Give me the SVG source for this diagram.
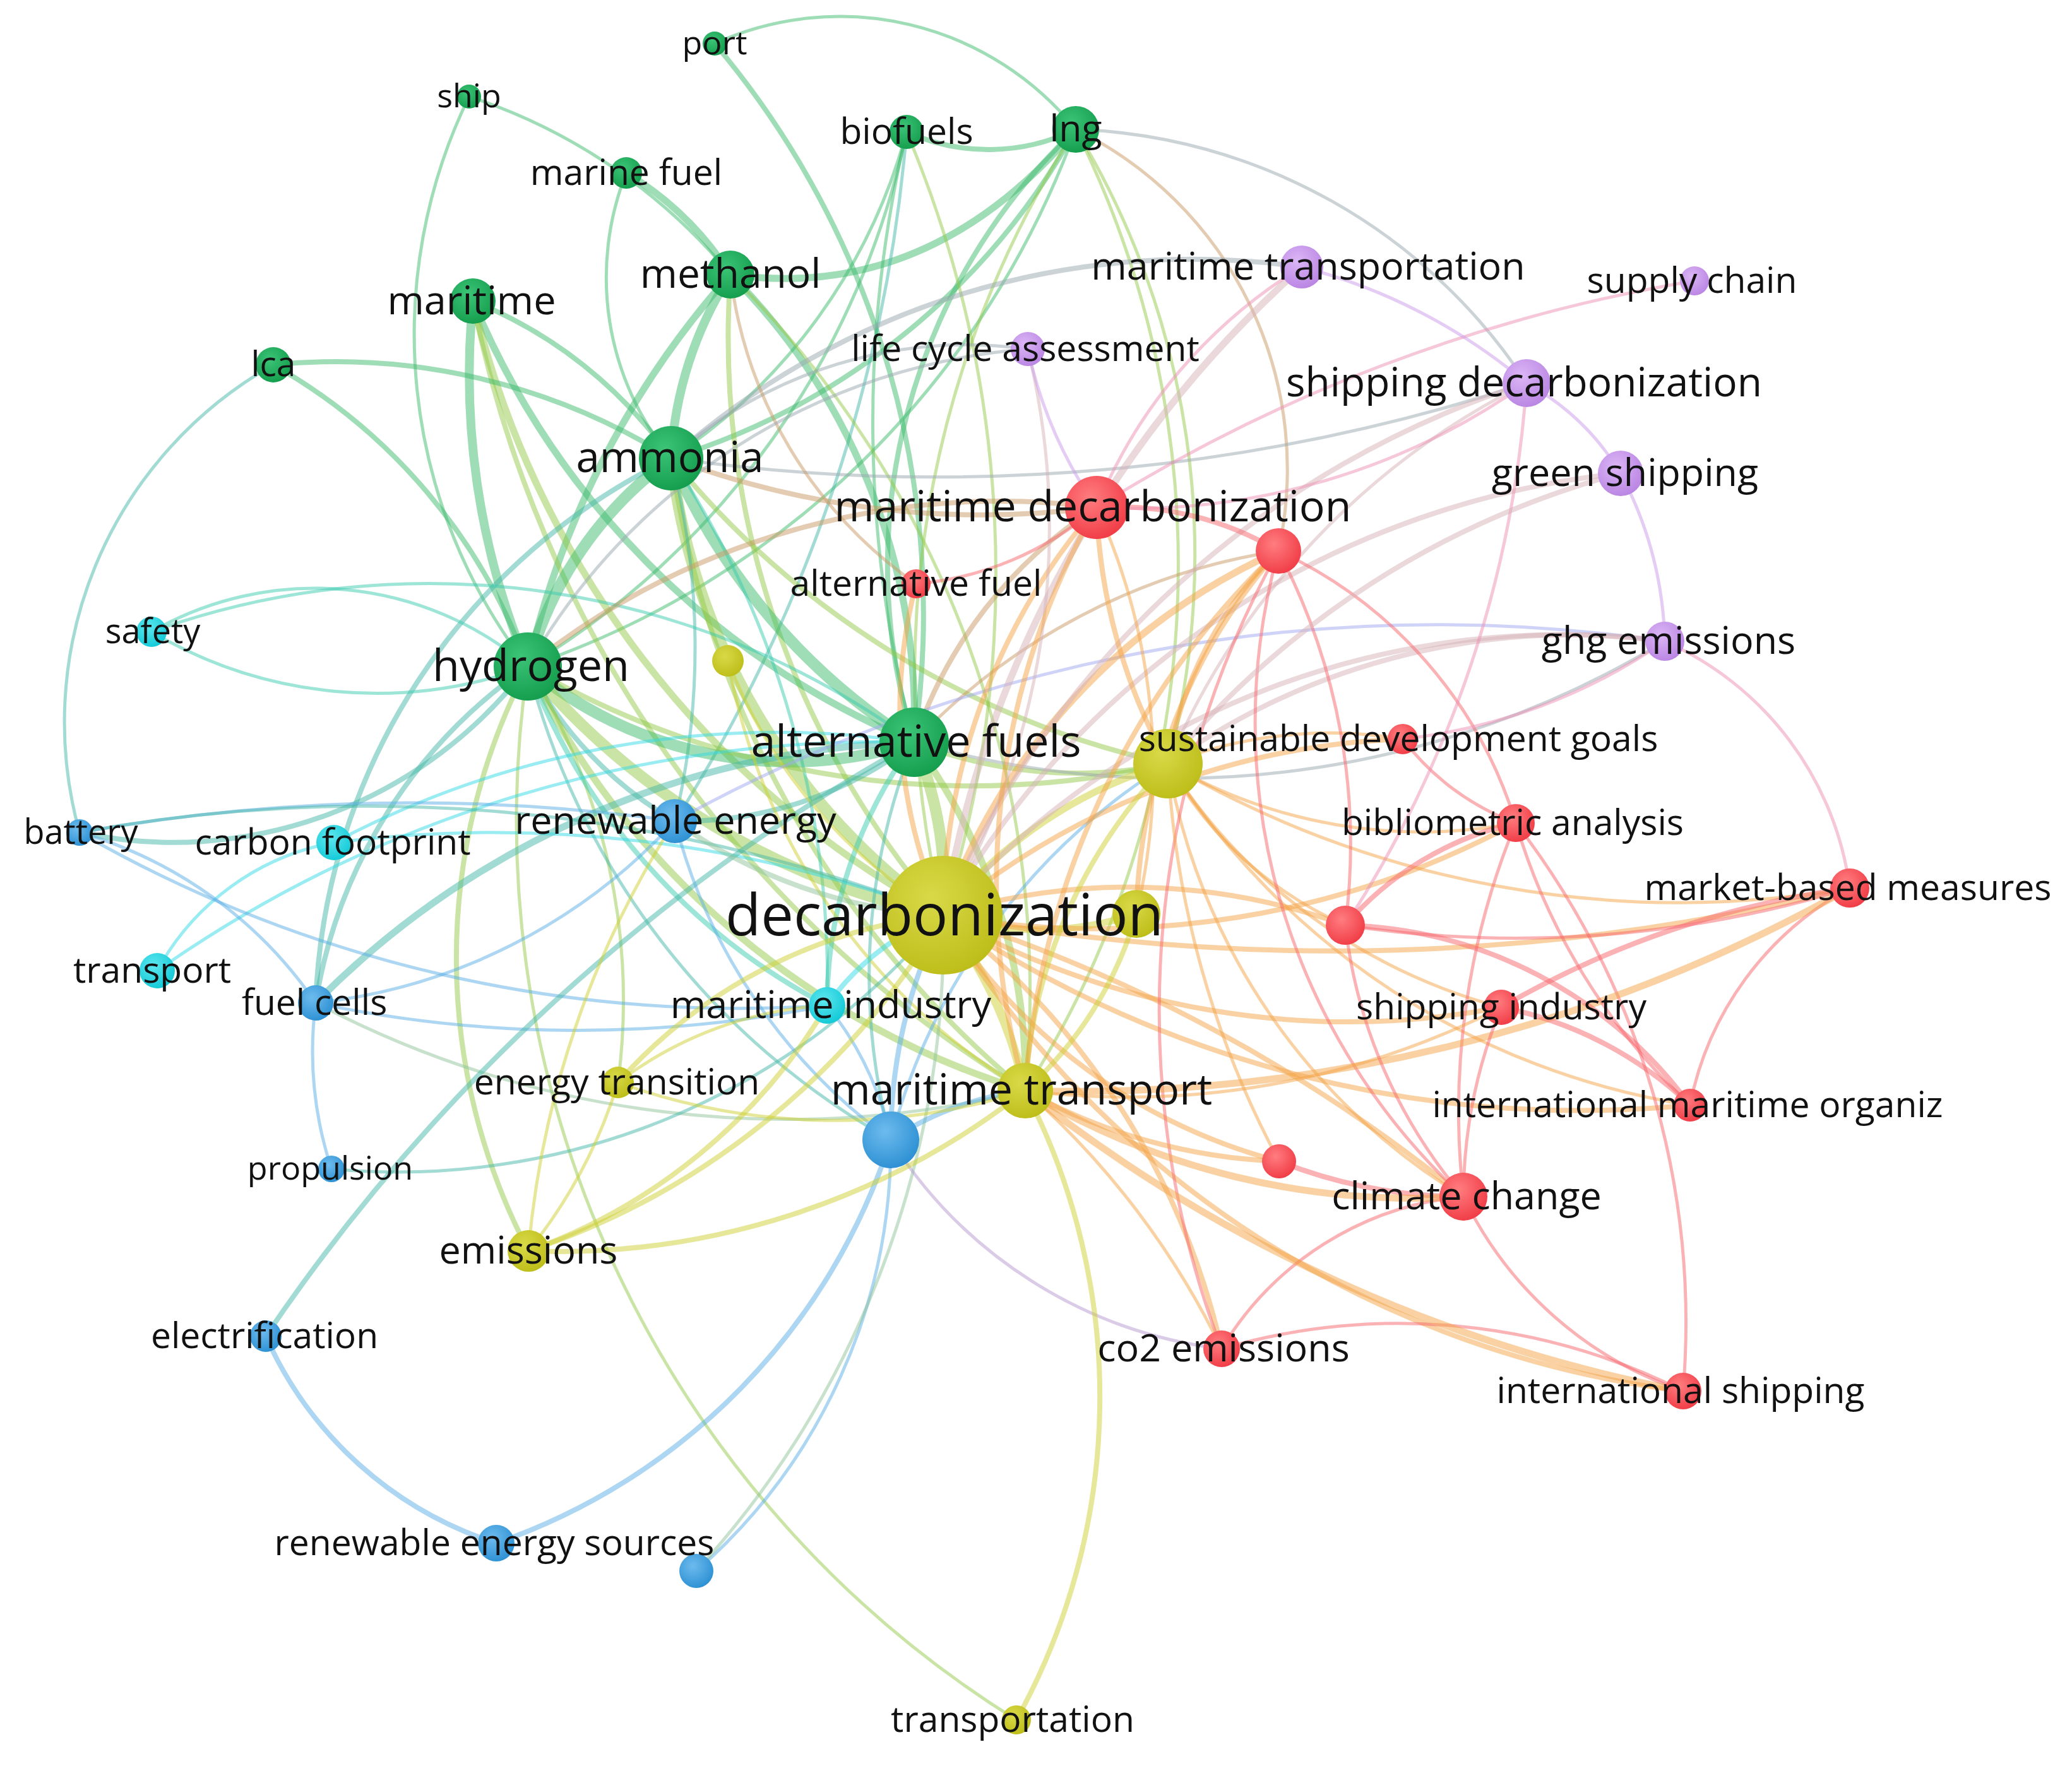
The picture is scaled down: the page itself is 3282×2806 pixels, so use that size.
<svg xmlns="http://www.w3.org/2000/svg" width="3282" height="2806" viewBox="0 0 3282 2806">
<style>
.e{fill:none;stroke-linecap:round;stroke-opacity:.5}
.g{stroke:#3dbb6e}.y{stroke:#cdd032}.r{stroke:#f7666b}.p{stroke:#c99ae9}.b{stroke:#5aaee6}.c{stroke:#33d9e4}
.gy{stroke:#93c94a}.ry{stroke:#f3a445}.gb{stroke:#45b8a8}.gc{stroke:#3ccbb0}.gp{stroke:#9aa8b0}.rp{stroke:#eb8fb4}
.py{stroke:#d6b2b8}.pb{stroke:#a0a8f0}.gr{stroke:#c99a66}.by{stroke:#90c49a}.rb{stroke:#b59ad0}
.w1{stroke-width:5}.w2{stroke-width:8}.w3{stroke-width:11}.w4{stroke-width:14}.w5{stroke-width:18}
text{font-family:"Open Sans","Liberation Sans",sans-serif;fill:#111;text-anchor:middle}
.f92{font-size:92px}.f70{font-size:70px}.f68{font-size:68px}.f67{font-size:67px}.f64{font-size:64px}.f63{font-size:63px}.f61{font-size:61px}.f59{font-size:59px}.f57{font-size:57px}.f55{font-size:55px}.f54{font-size:54px}.f52{font-size:52px}
.ng{fill:url(#gG)}.nr{fill:url(#gR)}.np{fill:url(#gP)}.ny{fill:url(#gY)}.nb{fill:url(#gB)}.nc{fill:url(#gC)}
</style>
<defs>
<radialGradient id="gG" cx="40%" cy="35%" r="70%"><stop offset="0" stop-color="#3cc477"/><stop offset="1" stop-color="#129c4b"/></radialGradient>
<radialGradient id="gR" cx="40%" cy="35%" r="70%"><stop offset="0" stop-color="#ff7d80"/><stop offset="1" stop-color="#f03a44"/></radialGradient>
<radialGradient id="gP" cx="40%" cy="35%" r="70%"><stop offset="0" stop-color="#dcb6f6"/><stop offset="1" stop-color="#b883e2"/></radialGradient>
<radialGradient id="gY" cx="40%" cy="35%" r="70%"><stop offset="0" stop-color="#d9d948"/><stop offset="1" stop-color="#bcbc18"/></radialGradient>
<radialGradient id="gB" cx="40%" cy="35%" r="70%"><stop offset="0" stop-color="#6dbbee"/><stop offset="1" stop-color="#2b8fd2"/></radialGradient>
<radialGradient id="gC" cx="40%" cy="35%" r="70%"><stop offset="0" stop-color="#5de7ef"/><stop offset="1" stop-color="#10c8d6"/></radialGradient>
</defs>
<rect width="3282" height="2806" fill="#fff"/>
<g id="edges">
<path class="e g w1" d="M1132,69 A480,480 0 0 1 1704,205"/>
<path class="e g w2" d="M1132,69 A1400,1400 0 0 1 1448,1176"/>
<path class="e g w1" d="M743,153 A900,900 0 0 1 1157,435"/>
<path class="e g w1" d="M743,153 A860,860 0 0 0 836,1056"/>
<path class="e g w3" d="M992,274 A500,500 0 0 1 1157,435"/>
<path class="e g w1" d="M992,274 A450,450 0 0 0 1063,726"/>
<path class="e g w3" d="M1704,205 Q1470,480 1157,435"/>
<path class="e g w2" d="M1704,205 A950,950 0 0 0 1448,1176"/>
<path class="e g w2" d="M1704,205 A1100,1100 0 0 1 1063,726"/>
<path class="e g w1" d="M1704,205 A1400,1400 0 0 1 836,1056"/>
<path class="e gy w1" d="M1704,205 A1600,1600 0 0 0 1494,1450"/>
<path class="e gp w1" d="M1704,205 A890,890 0 0 1 2418,607"/>
<path class="e gy w1" d="M1704,205 A1550,1550 0 0 1 1624,1728"/>
<path class="e gy w1" d="M1704,205 A1300,1300 0 0 1 1850,1210"/>
<path class="e gr w1" d="M1704,205 A600,600 0 0 1 2025,873"/>
<path class="e g w2" d="M1436,209 A315,315 0 0 0 1704,205"/>
<path class="e gy w1" d="M1436,209 A1800,1800 0 0 1 1494,1450"/>
<path class="e gb w1" d="M1436,209 A2400,2400 0 0 1 1069,1301"/>
<path class="e g w1" d="M1436,209 A2000,2000 0 0 0 1448,1176"/>
<path class="e g w1" d="M1436,209 A900,900 0 0 1 1063,726"/>
<path class="e g w1" d="M1436,209 A1300,1300 0 0 1 836,1056"/>
<path class="e g w4" d="M1157,435 A600,600 0 0 0 1063,726"/>
<path class="e g w3" d="M1157,435 A1400,1400 0 0 0 836,1056"/>
<path class="e g w3" d="M1157,435 A1000,1000 0 0 1 1448,1176"/>
<path class="e gy w2" d="M1157,435 A1400,1400 0 0 0 1494,1450"/>
<path class="e gy w1" d="M1157,435 A1600,1600 0 0 1 1624,1728"/>
<path class="e gp w2" d="M1063,726 A1240,1240 0 0 1 2062,423"/>
<path class="e gp w1" d="M1063,726 A700,700 0 0 1 1628,553"/>
<path class="e gp w1" d="M1063,726 A3000,3000 0 0 0 2418,607"/>
<path class="e g w4" d="M749,477 A1200,1200 0 0 0 836,1056"/>
<path class="e g w2" d="M749,477 A700,700 0 0 1 1063,726"/>
<path class="e g w3" d="M749,477 A1300,1300 0 0 0 1448,1176"/>
<path class="e gy w3" d="M749,477 A1500,1500 0 0 0 1494,1450"/>
<path class="e gy w2" d="M749,477 A1900,1900 0 0 0 1624,1728"/>
<path class="e g w2" d="M433,578 A900,900 0 0 1 836,1056"/>
<path class="e gb w1" d="M433,578 A650,650 0 0 0 126,1319"/>
<path class="e g w2" d="M433,578 A1000,1000 0 0 1 1063,726"/>
<path class="e g w5" d="M1063,726 A600,600 0 0 0 836,1056"/>
<path class="e g w5" d="M1063,726 A1000,1000 0 0 0 1448,1176"/>
<path class="e gy w5" d="M1063,726 A1030,1030 0 0 0 1494,1450"/>
<path class="e gr w2" d="M1063,726 A1400,1400 0 0 0 1737,804"/>
<path class="e gy w2" d="M1063,726 A1600,1600 0 0 0 1624,1728"/>
<path class="e gy w2" d="M1063,726 A1400,1400 0 0 0 1850,1210"/>
<path class="e gb w1" d="M1063,726 A1200,1200 0 0 1 1069,1301"/>
<path class="e gb w2" d="M1063,726 A1000,1000 0 0 0 500,1589"/>
<path class="e gc w1" d="M1063,726 A1500,1500 0 0 1 1310,1593"/>
<path class="e gr w1" d="M1451,925 A700,700 0 0 1 1157,435"/>
<path class="e g w5" d="M836,1056 A644,644 0 0 0 1448,1176"/>
<path class="e gy w5" d="M836,1056 A1160,1160 0 0 0 1494,1450"/>
<path class="e gb w2" d="M836,1056 A800,800 0 0 0 500,1589"/>
<path class="e gc w1" d="M240,1001 A700,700 0 0 0 836,1056"/>
<path class="e gc w1" d="M240,1001 A1300,1300 0 0 1 1448,1176"/>
<path class="e gc w1" d="M240,1001 A520,520 0 0 1 836,1056"/>
<path class="e gb w2" d="M126,1319 A706,706 0 0 0 836,1056"/>
<path class="e gb w2" d="M836,1056 A600,600 0 0 0 1069,1301"/>
<path class="e gy w3" d="M836,1056 A1300,1300 0 0 0 1624,1728"/>
<path class="e gy w2" d="M836,1056 A1000,1000 0 0 0 837,1982"/>
<path class="e gy w1" d="M836,1056 A1000,1000 0 0 1 979,1715"/>
<path class="e gc w2" d="M836,1056 A1000,1000 0 0 0 1310,1593"/>
<path class="e gr w2" d="M836,1056 A1200,1200 0 0 1 1737,804"/>
<path class="e gy w2" d="M836,1056 A1400,1400 0 0 0 1850,1210"/>
<path class="e gy w1" d="M836,1056 A1677,1677 0 0 0 1610,2725"/>
<path class="e gb w1" d="M836,1056 A1200,1200 0 0 0 1411,1806"/>
<path class="e gy w5" d="M1448,1176 A600,600 0 0 1 1494,1450"/>
<path class="e gy w3" d="M1448,1176 A900,900 0 0 1 1624,1728"/>
<path class="e gy w2" d="M1448,1176 A700,700 0 0 0 1850,1210"/>
<path class="e gr w2" d="M1448,1176 A700,700 0 0 1 1737,804"/>
<path class="e gc w2" d="M1448,1176 A700,700 0 0 0 1310,1593"/>
<path class="e gb w2" d="M1448,1176 A600,600 0 0 1 1069,1301"/>
<path class="e gb w1" d="M1448,1176 A1000,1000 0 0 0 1411,1806"/>
<path class="e gr w1" d="M1448,1176 A1000,1000 0 0 1 2025,873"/>
<path class="e gp w1" d="M1448,1176 A1500,1500 0 0 0 2637,1016"/>
<path class="e gb w3" d="M1448,1176 A1390,1390 0 0 0 500,1589"/>
<path class="e y w1" d="M1153,1047 A800,800 0 0 0 1494,1450"/>
<path class="e y w1" d="M1153,1047 A1000,1000 0 0 0 1624,1728"/>
<path class="e c w2" d="M1310,1593 A400,400 0 0 1 1494,1450"/>
<path class="e b w1" d="M1310,1593 A500,500 0 0 1 1411,1806"/>
<path class="e c w1" d="M249,1538 A400,400 0 0 1 529,1335"/>
<path class="e c w1" d="M249,1538 A2000,2000 0 0 1 1448,1176"/>
<path class="e c w1" d="M529,1335 A1500,1500 0 0 1 1448,1176"/>
<path class="e c w1" d="M529,1335 A2000,2000 0 0 1 1494,1450"/>
<path class="e b w1" d="M500,1589 A900,900 0 0 0 1069,1301"/>
<path class="e b w1" d="M500,1589 A2000,2000 0 0 0 1310,1593"/>
<path class="e by w1" d="M500,1589 A1600,1600 0 0 0 1624,1728"/>
<path class="e b w1" d="M500,1589 A600,600 0 0 0 525,1852"/>
<path class="e b w1" d="M126,1319 A680,680 0 0 1 500,1589"/>
<path class="e b w1" d="M126,1319 A2100,2100 0 0 0 1310,1593"/>
<path class="e b w1" d="M126,1319 A3000,3000 0 0 1 1069,1301"/>
<path class="e gb w1" d="M126,1319 A2500,2500 0 0 1 1494,1450"/>
<path class="e gb w1" d="M525,1852 A1120,1120 0 0 0 1494,1450"/>
<path class="e gb w2" d="M421,2117 A3000,3000 0 0 1 1448,1176"/>
<path class="e b w2" d="M421,2117 A600,600 0 0 0 786,2445"/>
<path class="e b w2" d="M786,2445 A1000,1000 0 0 0 1411,1806"/>
<path class="e b w1" d="M1103,2489 A900,900 0 0 0 1411,1806"/>
<path class="e by w1" d="M1103,2489 A1500,1500 0 0 0 1494,1450"/>
<path class="e rb w1" d="M1411,1806 A721,721 0 0 0 1935,2137"/>
<path class="e b w2" d="M1411,1806 A500,500 0 0 1 1624,1728"/>
<path class="e b w2" d="M1411,1806 A800,800 0 0 1 1494,1450"/>
<path class="e b w1" d="M1411,1806 A1000,1000 0 0 1 1850,1210"/>
<path class="e b w1" d="M1069,1301 A900,900 0 0 0 1411,1806"/>
<path class="e by w2" d="M1069,1301 A800,800 0 0 0 1494,1450"/>
<path class="e pb w1" d="M1069,1301 A2500,2500 0 0 1 2637,1016"/>
<path class="e y w2" d="M837,1982 A1200,1200 0 0 0 1624,1728"/>
<path class="e y w2" d="M837,1982 A900,900 0 0 0 1310,1593"/>
<path class="e y w2" d="M837,1982 A1200,1200 0 0 0 1494,1450"/>
<path class="e y w1" d="M837,1982 A800,800 0 0 0 979,1715"/>
<path class="e y w1" d="M837,1982 A1500,1500 0 0 1 1069,1301"/>
<path class="e y w2" d="M979,1715 A800,800 0 0 1 1494,1450"/>
<path class="e y w1" d="M979,1715 A1000,1000 0 0 0 1624,1728"/>
<path class="e y w1" d="M979,1715 A600,600 0 0 1 1310,1593"/>
<path class="e y w2" d="M1610,2725 A1056,1056 0 0 0 1624,1728"/>
<path class="e y w3" d="M1494,1450 A500,500 0 0 0 1800,1448"/>
<path class="e y w3" d="M1494,1450 A700,700 0 0 1 1850,1210"/>
<path class="e y w4" d="M1494,1450 A700,700 0 0 1 1624,1728"/>
<path class="e ry w2" d="M1494,1450 A1000,1000 0 0 1 1737,804"/>
<path class="e ry w3" d="M1494,1450 A1000,1000 0 0 1 2025,873"/>
<path class="e ry w2" d="M1494,1450 A1200,1200 0 0 1 2222,1171"/>
<path class="e ry w2" d="M1494,1450 A1400,1400 0 0 0 2401,1304"/>
<path class="e ry w2" d="M1494,1450 A1000,1000 0 0 1 2131,1466"/>
<path class="e ry w2" d="M1494,1450 A3400,3400 0 0 0 2930,1407"/>
<path class="e ry w2" d="M1494,1450 A1300,1300 0 0 0 2378,1596"/>
<path class="e ry w2" d="M1494,1450 A1800,1800 0 0 0 2677,1751"/>
<path class="e ry w2" d="M1494,1450 A2500,2500 0 0 1 2318,1896"/>
<path class="e ry w2" d="M1494,1450 A1200,1200 0 0 1 1935,2137"/>
<path class="e ry w2" d="M1494,1450 A1600,1600 0 0 0 2666,2204"/>
<path class="e ry w2" d="M1494,1450 A900,900 0 0 0 2026,1840"/>
<path class="e py w2" d="M1494,1450 A1300,1300 0 0 1 2637,1016"/>
<path class="e py w2" d="M1494,1450 A1400,1400 0 0 1 2567,750"/>
<path class="e py w3" d="M1494,1450 A1770,1770 0 0 1 2062,423"/>
<path class="e py w2" d="M1494,1450 A1500,1500 0 0 1 2418,607"/>
<path class="e py w1" d="M1494,1450 A1200,1200 0 0 0 1628,553"/>
<path class="e ry w2" d="M1494,1450 A800,800 0 0 1 1451,925"/>
<path class="e ry w2" d="M1850,1210 A900,900 0 0 1 1737,804"/>
<path class="e ry w2" d="M1850,1210 A600,600 0 0 1 2025,873"/>
<path class="e ry w1" d="M1850,1210 A800,800 0 0 0 2401,1304"/>
<path class="e ry w1" d="M1850,1210 A900,900 0 0 0 2378,1596"/>
<path class="e ry w1" d="M1850,1210 A1200,1200 0 0 0 2677,1751"/>
<path class="e y w2" d="M1850,1210 A800,800 0 0 0 1624,1728"/>
<path class="e ry w1" d="M1850,1210 A1000,1000 0 0 0 2318,1896"/>
<path class="e ry w1" d="M1850,1210 A600,600 0 0 0 2131,1466"/>
<path class="e ry w1" d="M1850,1210 A700,700 0 0 1 2222,1171"/>
<path class="e py w1" d="M1850,1210 A1200,1200 0 0 1 2418,607"/>
<path class="e py w2" d="M1850,1210 A1100,1100 0 0 1 2637,1016"/>
<path class="e ry w1" d="M1850,1210 A1600,1600 0 0 0 2930,1407"/>
<path class="e y w2" d="M1800,1448 A600,600 0 0 1 1624,1728"/>
<path class="e r w2" d="M1737,804 A500,500 0 0 1 2025,873"/>
<path class="e r w1" d="M1737,804 A500,500 0 0 1 1451,925"/>
<path class="e ry w2" d="M1737,804 A1200,1200 0 0 0 1624,1728"/>
<path class="e ry w1" d="M1737,804 A1000,1000 0 0 1 1800,1448"/>
<path class="e rp w1" d="M2418,607 A1080,1080 0 0 1 1737,804"/>
<path class="e rp w1" d="M2684,445 A2590,2590 0 0 0 1737,804"/>
<path class="e rp w1" d="M2062,423 A800,800 0 0 0 1737,804"/>
<path class="e r w1" d="M2025,873 A700,700 0 0 1 2401,1304"/>
<path class="e r w1" d="M2025,873 A1020,1020 0 0 0 2318,1896"/>
<path class="e ry w2" d="M2025,873 A1300,1300 0 0 0 1624,1728"/>
<path class="e ry w2" d="M2025,873 A900,900 0 0 0 1800,1448"/>
<path class="e r w1" d="M2025,873 A1000,1000 0 0 1 2131,1466"/>
<path class="e r w1" d="M2025,873 A1500,1500 0 0 0 1935,2137"/>
<path class="e r w2" d="M2401,1304 A500,500 0 0 0 2131,1466"/>
<path class="e r w1" d="M2401,1304 A1200,1200 0 0 0 2318,1896"/>
<path class="e r w1" d="M2401,1304 A400,400 0 0 1 2222,1171"/>
<path class="e r w1" d="M2401,1304 A1300,1300 0 0 1 2666,2204"/>
<path class="e rp w1" d="M2222,1171 A900,900 0 0 0 2637,1016"/>
<path class="e r w1" d="M2930,1407 A500,500 0 0 0 2677,1751"/>
<path class="e r w2" d="M2930,1407 A1500,1500 0 0 0 2378,1596"/>
<path class="e r w1" d="M2930,1407 A1800,1800 0 0 1 2131,1466"/>
<path class="e ry w3" d="M1624,1728 A2500,2500 0 0 0 2930,1407"/>
<path class="e rp w1" d="M2637,1016 A500,500 0 0 1 2930,1407"/>
<path class="e r w2" d="M2378,1596 A600,600 0 0 1 2677,1751"/>
<path class="e r w1" d="M2378,1596 A800,800 0 0 0 2318,1896"/>
<path class="e ry w1" d="M2378,1596 A1300,1300 0 0 1 1624,1728"/>
<path class="e r w2" d="M2677,1751 A700,700 0 0 0 2131,1466"/>
<path class="e r w1" d="M2677,1751 A1000,1000 0 0 1 2401,1304"/>
<path class="e r w1" d="M2318,1896 A500,500 0 0 0 1935,2137"/>
<path class="e r w1" d="M2318,1896 A600,600 0 0 0 2666,2204"/>
<path class="e r w2" d="M2318,1896 A800,800 0 0 1 2026,1840"/>
<path class="e ry w3" d="M2318,1896 A1200,1200 0 0 1 1624,1728"/>
<path class="e ry w2" d="M2026,1840 A900,900 0 0 1 1624,1728"/>
<path class="e ry w1" d="M2026,1840 A1500,1500 0 0 1 1850,1210"/>
<path class="e r w1" d="M1935,2137 A1000,1000 0 0 1 2666,2204"/>
<path class="e ry w1" d="M1935,2137 A1300,1300 0 0 0 1624,1728"/>
<path class="e ry w3" d="M2666,2204 A2400,2400 0 0 1 1624,1728"/>
<path class="e r w1" d="M2131,1466 A800,800 0 0 0 2318,1896"/>
<path class="e p w1" d="M2062,423 A900,900 0 0 1 2418,607"/>
<path class="e p w1" d="M2418,607 A400,400 0 0 1 2567,750"/>
<path class="e p w1" d="M2567,750 A600,600 0 0 1 2637,1016"/>
<path class="e rp w1" d="M2418,607 A1800,1800 0 0 1 2131,1466"/>
<path class="e py w2" d="M2567,750 A1400,1400 0 0 0 1850,1210"/>
<path class="e p w1" d="M1628,553 A700,700 0 0 0 1737,804"/>
<path class="e gp w1" d="M1628,553 A1000,1000 0 0 0 836,1056"/>
</g>
<g id="n-y1"><circle class="ny" cx="1153" cy="1047" r="25"/></g>
<g id="n-y2"><circle class="ny" cx="1850" cy="1210" r="55"/></g>
<g id="n-y3"><circle class="ny" cx="1800" cy="1448" r="38"/></g>
<g id="n-r1"><circle class="nr" cx="2025" cy="873" r="36"/></g>
<g id="n-r2"><circle class="nr" cx="2131" cy="1466" r="31"/></g>
<g id="n-r3"><circle class="nr" cx="2026" cy="1840" r="27"/></g>
<g id="n-b1"><circle class="nb" cx="1411" cy="1806" r="45"/></g>
<g id="n-b2"><circle class="nb" cx="1103" cy="2489" r="27"/></g>
<g id="n-port"><circle class="ng" cx="1132" cy="69" r="19"/><text class="f52" x="1132" y="86">port</text></g>
<g id="n-ship"><circle class="ng" cx="743" cy="153" r="19"/><text class="f52" x="743" y="170">ship</text></g>
<g id="n-biofuels"><circle class="ng" cx="1436" cy="209" r="27"/><text class="f57" x="1436" y="228">biofuels</text></g>
<g id="n-lng"><circle class="ng" cx="1704" cy="205" r="37"/><text class="f59" x="1704" y="224">lng</text></g>
<g id="n-marine-fuel"><circle class="ng" cx="992" cy="274" r="25"/><text class="f57" x="992" y="293">marine fuel</text></g>
<g id="n-maritime"><circle class="ng" cx="749" cy="477" r="36"/><text class="f63" x="747" y="498">maritime</text></g>
<g id="n-methanol"><circle class="ng" cx="1157" cy="435" r="38"/><text class="f64" x="1157" y="456">methanol</text></g>
<g id="n-lca"><circle class="ng" cx="433" cy="578" r="28"/><text class="f55" x="433" y="596">lca</text></g>
<g id="n-maritime-transportation"><circle class="np" cx="2062" cy="423" r="34"/><text class="f61" x="2072" y="443">maritime transportation</text></g>
<g id="n-supply-chain"><circle class="np" cx="2684" cy="445" r="23"/><text class="f57" x="2680" y="464">supply chain</text></g>
<g id="n-life-cycle-assessment"><circle class="np" cx="1628" cy="553" r="27"/><text class="f57" x="1624" y="572">life cycle assessment</text></g>
<g id="n-shipping-decarbonization"><circle class="np" cx="2418" cy="607" r="38"/><text class="f64" x="2414" y="628">shipping decarbonization</text></g>
<g id="n-ammonia"><circle class="ng" cx="1063" cy="726" r="51"/><text class="f67" x="1061" y="748">ammonia</text></g>
<g id="n-green-shipping"><circle class="np" cx="2567" cy="750" r="36"/><text class="f61" x="2574" y="770">green shipping</text></g>
<g id="n-maritime-decarbonization"><circle class="nr" cx="1737" cy="804" r="50"/><text class="f68" x="1731" y="826">maritime decarbonization</text></g>
<g id="n-alternative-fuel"><circle class="nr" cx="1451" cy="925" r="23"/><text class="f57" x="1451" y="944">alternative fuel</text></g>
<g id="n-safety"><circle class="nc" cx="240" cy="1001" r="24"/><text class="f54" x="242" y="1019">safety</text></g>
<g id="n-hydrogen"><circle class="ng" cx="836" cy="1056" r="54"/><text class="f70" x="841" y="1079">hydrogen</text></g>
<g id="n-ghg-emissions"><circle class="np" cx="2637" cy="1016" r="31"/><text class="f61" x="2643" y="1036">ghg emissions</text></g>
<g id="n-alternative-fuels"><circle class="ng" cx="1448" cy="1176" r="55"/><text class="f70" x="1451" y="1199">alternative fuels</text></g>
<g id="n-sustainable-development-goals"><circle class="nr" cx="2222" cy="1171" r="24"/><text class="f57" x="2215" y="1190">sustainable development goals</text></g>
<g id="n-battery"><circle class="nb" cx="126" cy="1319" r="21"/><text class="f54" x="128" y="1337">battery</text></g>
<g id="n-carbon-footprint"><circle class="nc" cx="529" cy="1335" r="28"/><text class="f57" x="527" y="1354">carbon footprint</text></g>
<g id="n-renewable-energy"><circle class="nb" cx="1069" cy="1301" r="35"/><text class="f61" x="1070" y="1321">renewable energy</text></g>
<g id="n-bibliometric-analysis"><circle class="nr" cx="2401" cy="1304" r="30"/><text class="f57" x="2396" y="1323">bibliometric analysis</text></g>
<g id="n-market-based-measures"><circle class="nr" cx="2930" cy="1407" r="31"/><text class="f57" x="2927" y="1426">market-based measures</text></g>
<g id="n-transport"><circle class="nc" cx="249" cy="1538" r="28"/><text class="f57" x="241" y="1557">transport</text></g>
<g id="n-fuel-cells"><circle class="nb" cx="500" cy="1589" r="28"/><text class="f57" x="498" y="1608">fuel cells</text></g>
<g id="n-maritime-industry"><circle class="nc" cx="1310" cy="1593" r="29"/><text class="f61" x="1316" y="1613">maritime industry</text></g>
<g id="n-shipping-industry"><circle class="nr" cx="2378" cy="1596" r="28"/><text class="f57" x="2378" y="1615">shipping industry</text></g>
<g id="n-energy-transition"><circle class="ny" cx="979" cy="1715" r="25"/><text class="f57" x="977" y="1734">energy transition</text></g>
<g id="n-international-maritime-organiz"><circle class="nr" cx="2677" cy="1751" r="26"/><text class="f57" x="2673" y="1770">international maritime organiz</text></g>
<g id="n-propulsion"><circle class="nb" cx="525" cy="1852" r="21"/><text class="f52" x="523" y="1869">propulsion</text></g>
<g id="n-climate-change"><circle class="nr" cx="2318" cy="1896" r="38"/><text class="f61" x="2323" y="1916">climate change</text></g>
<g id="n-emissions"><circle class="ny" cx="837" cy="1982" r="33"/><text class="f61" x="837" y="2002">emissions</text></g>
<g id="n-electrification"><circle class="nb" cx="421" cy="2117" r="25"/><text class="f57" x="419" y="2136">electrification</text></g>
<g id="n-co2-emissions"><circle class="nr" cx="1935" cy="2137" r="29"/><text class="f61" x="1938" y="2157">co2 emissions</text></g>
<g id="n-international-shipping"><circle class="nr" cx="2666" cy="2204" r="29"/><text class="f57" x="2662" y="2223">international shipping</text></g>
<g id="n-renewable-energy-sources"><circle class="nb" cx="786" cy="2445" r="29"/><text class="f57" x="783" y="2464">renewable energy sources</text></g>
<g id="n-transportation"><circle class="ny" cx="1610" cy="2725" r="23"/><text class="f57" x="1604" y="2744">transportation</text></g>
<g id="n-maritime-transport"><circle class="ny" cx="1624" cy="1728" r="44"/><text class="f68" x="1618" y="1750">maritime transport</text></g>
<g id="n-decarbonization"><circle class="ny" cx="1494" cy="1450" r="94"/><text class="f92" x="1496" y="1482">decarbonization</text></g>
</svg>
